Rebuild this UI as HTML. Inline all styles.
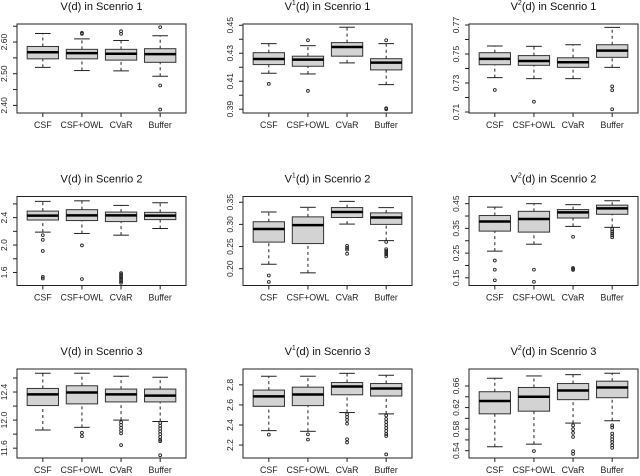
<!DOCTYPE html>
<html><head><meta charset="utf-8"><style>
body{margin:0;background:#fff}
svg{display:block;font-family:"Liberation Sans",Arial,sans-serif}
</style></head><body>
<svg id="chart" width="640" height="476" viewBox="0 0 640 476" xmlns="http://www.w3.org/2000/svg"></svg>
<script>
const categories=["CSF","CSF+OWL","CVaR","Buffer"];
const titles=[["V","","1"],["V","1","1"],["V","2","1"],["V","","2"],["V","1","2"],["V","2","2"],["V","","3"],["V","1","3"],["V","2","3"]];
const domains=[[2.376,2.657],[0.3873,0.4509],[0.7093,0.7707],[1.41,2.708],[0.162,0.363],[0.119,0.479],[11.46,12.728],[2.071,2.958],[0.5264,0.6916]];
const ticks=[[2.40,2.45,2.50,2.55,2.60,2.65],[0.39,0.40,0.41,0.42,0.43,0.44,0.45],[0.71,0.72,0.73,0.74,0.75,0.76,0.77],[1.6,1.8,2.0,2.2,2.4,2.6],[0.20,0.25,0.30,0.35],[0.15,0.20,0.25,0.30,0.35,0.40,0.45],[11.6,11.8,12.0,12.2,12.4,12.6],[2.2,2.4,2.6,2.8],[0.54,0.56,0.58,0.60,0.62,0.64,0.66]];
const tickLabels=[["2.40","2.50","2.60"],["0.39","0.41","0.43","0.45"],["0.71","0.73","0.75","0.77"],["1.6","2.0","2.4"],["0.20","0.25","0.30","0.35"],["0.15","0.25","0.35","0.45"],["11.6","12.0","12.4"],["2.2","2.4","2.6","2.8"],["0.54","0.58","0.62","0.66"]];
// per panel: per category [low, q1, median, q3, high]
const stats=[
[[2.520,2.547,2.568,2.586,2.627],[2.510,2.547,2.565,2.577,2.610],[2.509,2.543,2.563,2.577,2.605],[2.492,2.536,2.562,2.579,2.620]],
[[0.4157,0.4219,0.4259,0.4304,0.4369],[0.4152,0.4207,0.4254,0.4279,0.4354],[0.4231,0.4279,0.4345,0.4376,0.4486],[0.4076,0.4181,0.4233,0.4261,0.4369]],
[[0.7337,0.7426,0.7466,0.7509,0.7555],[0.7330,0.7422,0.7452,0.7489,0.7553],[0.7330,0.7408,0.7443,0.7474,0.7564],[0.7408,0.7477,0.7523,0.7564,0.7684]],
[[2.188,2.365,2.429,2.495,2.636],[2.169,2.357,2.433,2.516,2.645],[2.144,2.342,2.433,2.481,2.578],[2.241,2.371,2.429,2.477,2.617]],
[[0.210,0.260,0.2895,0.306,0.328],[0.1906,0.2567,0.2984,0.317,0.3386],[0.3007,0.3156,0.328,0.338,0.352],[0.2634,0.300,0.3156,0.326,0.338]],
[[0.258,0.339,0.378,0.402,0.436],[0.286,0.335,0.388,0.419,0.450],[0.358,0.392,0.415,0.426,0.446],[0.354,0.407,0.431,0.444,0.462]],
[[11.859,12.207,12.366,12.451,12.668],[11.897,12.231,12.394,12.489,12.668],[12.0,12.259,12.366,12.442,12.625],[11.98,12.259,12.348,12.442,12.611]],
[[2.344,2.586,2.685,2.748,2.886],[2.337,2.593,2.704,2.777,2.886],[2.524,2.701,2.783,2.823,2.915],[2.511,2.689,2.764,2.813,2.896]],
[[0.5472,0.6084,0.6323,0.6494,0.6745],[0.5521,0.6133,0.6402,0.6573,0.6787],[0.5912,0.6347,0.6517,0.6646,0.6811],[0.5956,0.6383,0.6573,0.669,0.6837]]
];
const outliers=[
[[],[2.629,2.626],[2.634,2.626],[2.647,2.463,2.387]],
[[0.4081],[0.4393,0.4031],[],[0.4393,0.3907,0.3900]],
[[0.7252],[0.7171],[],[0.7277,0.7250,0.7119]],
[[2.144,2.076,1.913,1.537,1.513],[1.995,1.504],[1.59,1.57,1.55,1.53,1.51,1.49,1.47,1.45],[]],
[[0.1846,0.170],[],[0.2516,0.247,0.243,0.2337],[0.2605,0.244,0.240,0.236,0.232,0.2277]],
[[0.220,0.183,0.140],[0.183,0.134],[0.316,0.190,0.186,0.182],[0.347,0.338,0.330,0.322,0.314]],
[[],[11.82,11.77],[11.97,11.93,11.89,11.85,11.81,11.644],[11.96,11.92,11.88,11.84,11.80,11.76,11.72,11.70,11.50]],
[[2.304],[2.307,2.255],[2.507,2.48,2.45,2.413,2.258,2.226],[2.494,2.46,2.43,2.40,2.37,2.34,2.31,2.29,2.107]],
[[],[0.5393],[0.587,0.580,0.573,0.5655,0.539,0.534],[0.587,0.583,0.5717,0.566,0.561,0.556,0.550,0.5453]]
];
const NS="http://www.w3.org/2000/svg";
const svg=document.getElementById("chart");
function mk(tag,attrs,parent){const e=document.createElementNS(NS,tag);for(const k in attrs)e.setAttribute(k,attrs[k]);(parent||svg).appendChild(e);return e;}
const colLeft=[17,243,469],rowTop=[24,196.5,369],W=169,H=89;
for(let p=0;p<9;p++){
  const L=colLeft[p%3],T=rowTop[Math.floor(p/3)],B=T+H,R=L+W;
  const [lo,hi]=domains[p];
  const y=v=>B-(v-lo)/(hi-lo)*H;
  const unit=W/4.32;
  const x=i=>L+(i+1-0.34)*unit;
  const g=mk("g",{});
  
  
  const t=titles[p];
  const tt=mk("text",{x:L+W/2,y:T-14,"text-anchor":"middle","font-size":"11",fill:"#111"},g);
  
  
  tt.appendChild(document.createTextNode(t[0]));
  if(t[1]){const s=mk("tspan",{"font-size":"7",dy:"-5"},tt);s.textContent=t[1];const r=mk("tspan",{dy:"5"},tt);r.textContent="(d) in Scenrio "+t[2];}
  else tt.appendChild(document.createTextNode("(d) in Scenrio "+t[2]));
  const ax=mk("g",{},g);
  
  
  ticks[p].forEach(v=>{mk("line",{x1:L-4,x2:L,y1:y(v),y2:y(v),stroke:"#222","stroke-width":"1"},ax);});
  tickLabels[p].forEach(s=>{const v=parseFloat(s);const yy=y(v);
    const lt=mk("text",{x:L-10,y:yy,"text-anchor":"middle","font-size":"8.5",fill:"#222",transform:`rotate(-90 ${L-10} ${yy})`},ax);
    
    
    lt.textContent=s;});
  categories.forEach((c,i)=>{
    const cx=x(i),bw=unit*0.8,st=stats[p][i];
    const bg=mk("g",{},g);
    
    
    mk("line",{x1:cx,x2:cx,y1:y(st[0]),y2:y(st[1]),stroke:"#222","stroke-dasharray":"3,3"},bg);
    mk("line",{x1:cx,x2:cx,y1:y(st[3]),y2:y(st[4]),stroke:"#222","stroke-dasharray":"3,3"},bg);
    mk("line",{x1:cx-bw/4,x2:cx+bw/4,y1:y(st[0]),y2:y(st[0]),stroke:"#222"},bg);
    mk("line",{x1:cx-bw/4,x2:cx+bw/4,y1:y(st[4]),y2:y(st[4]),stroke:"#222"},bg);
    mk("rect",{x:cx-bw/2,y:y(st[3]),width:bw,height:y(st[1])-y(st[3]),fill:"#d3d3d3",stroke:"#333","stroke-width":"1"},bg);
    mk("line",{x1:cx-bw/2,x2:cx+bw/2,y1:y(st[2]),y2:y(st[2]),stroke:"#000","stroke-width":"2.5"},bg);
    outliers[p][i].forEach(v=>{const o=mk("circle",{cx:cx,cy:y(v),r:1.4,fill:"none",stroke:"#222","stroke-width":"0.9"},bg);
      
      });
    mk("line",{x1:cx,x2:cx,y1:B,y2:B+4,stroke:"#222"},g);
    const xl=mk("text",{x:cx,y:B+15,"text-anchor":"middle","font-size":"8.8",fill:"#222"},g);
    
    
    xl.textContent=c;
  });
  const fr=mk("rect",{x:L,y:T,width:W,height:H,fill:"none",stroke:"#222","stroke-width":"1"},g);
  
  
}
</script>
</body></html>
